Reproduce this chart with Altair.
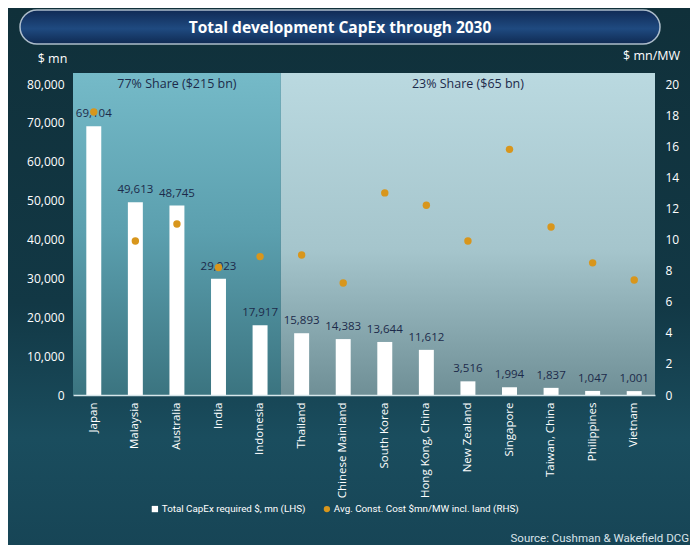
import altair as alt
import pandas as pd

countries = ["Japan", "Malaysia", "Australia", "India", "Indonesia", "Thailand",
             "Chinese Mainland", "South Korea", "Hong Kong, China", "New Zealand",
             "Singapore", "Taiwan, China", "Philippines", "Vietnam"]
capex = [69104, 49613, 48745, 29923, 17917, 15893, 14383, 13644, 11612, 3516,
         1994, 1837, 1047, 1001]
cost_per_mw = [18.2, 9.9, 11.0, 8.2, 8.9, 9.0, 7.2, 13.0, 12.2, 9.9, 15.8, 10.8, 8.5, 7.4]

share_labels = ["77% Share ($215 bn)", "23% Share ($65 bn)"]
share_counts = [5, 9]
share_centers = ["Australia", "New Zealand"]

series_names = ["Total CapEx required $, mn (LHS)",
                "Avg. Const. Cost $mn/MW incl. land (RHS)"]
left_ticks = [0, 10000, 20000, 30000, 40000, 50000, 60000, 70000, 80000]
right_ticks = [0, 2, 4, 6, 8, 10, 12, 14, 16, 18, 20]

title_text = "Total development CapEx through 2030"
source_text = "Source: Cushman & Wakefield DCG"

FONT = "Open Sans"
NAVY = "#1c2a4a"
GOLD = "#d8961c"
W, H = 582, 322
PAD = {"left": 65, "top": 65, "right": 35, "bottom": 150}

df = pd.DataFrame({"country": countries, "capex": capex, "cost": cost_per_mw})
df["capex_label"] = [f"{v:,}" for v in capex]

x_scale = alt.Scale(domain=countries, paddingInner=0.64, paddingOuter=0.32)
x_axis = alt.Axis(title=None, labelAngle=-90, labelColor="white",
                  labelFont=FONT, labelFontSize=11.5, labelPadding=7,
                  ticks=False, domainColor="#d6e6ea", domainWidth=1.5,
                  grid=False, zindex=1)


def xenc():
    return alt.X("country:N", scale=x_scale, axis=x_axis)


y_left_scale = alt.Scale(domain=[0, 82830], nice=False)
y_right_scale = alt.Scale(domain=[0, 20.71], nice=False)
y_left_axis = alt.Axis(values=left_ticks, labelExpr="format(datum.value, ',')",
                       title="$ mn", titleAngle=0,
                       titleX=-21, titleY=-8, titleAlign="center",
                       titleColor="white", titleFont=FONT, titleFontSize=12.5,
                       titleFontWeight="normal",
                       labelColor="white", labelFont=FONT, labelFontSize=12,
                       labelPadding=9, ticks=False, domain=False, grid=False,
                       zindex=1)

# panel backgrounds
bounds = [0]
for c in share_counts:
    bounds.append(bounds[-1] + c)
panels = pd.DataFrame({"start": bounds[:-1], "end": bounds[1:], "label": share_labels,
                       "country": share_centers, "top": [80000, 80000]})

grad_left = alt.LinearGradient(gradient="linear", x1=0, y1=0, x2=0, y2=1, stops=[
    alt.GradientStop(color="#75bac8", offset=0),
    alt.GradientStop(color="#5b9fae", offset=0.5),
    alt.GradientStop(color="#3b7480", offset=1)])
grad_right = alt.LinearGradient(gradient="linear", x1=0, y1=0, x2=0, y2=1, stops=[
    alt.GradientStop(color="#bad9e0", offset=0),
    alt.GradientStop(color="#a5c5cc", offset=0.55),
    alt.GradientStop(color="#6f8f96", offset=1)])

bg_x = alt.X("start:Q", scale=alt.Scale(domain=[0, bounds[-1]], nice=False), axis=None)
bg_left = alt.Chart(panels).transform_filter(alt.datum.start == 0).mark_rect(
    fill=grad_left).encode(x=bg_x, x2="end:Q", y=alt.value(0), y2=alt.value(H))
bg_right = alt.Chart(panels).transform_filter(alt.datum.start > 0).mark_rect(
    fill=grad_right).encode(x=bg_x, x2="end:Q", y=alt.value(0), y2=alt.value(H))
bg = alt.layer(bg_left, bg_right)

color_scale = alt.Scale(domain=series_names, range=["white", GOLD])
legend = alt.Legend(title=None, orient="none", legendX=77, legendY=431,
                    direction="horizontal", labelColor="white", labelFont="Roboto",
                    labelFontSize=9.8, labelLimit=400, symbolSize=40,
                    symbolStrokeWidth=0, columnPadding=16, labelOffset=2,
                    zindex=1)

bars = alt.Chart(df).transform_calculate(series=f"'{series_names[0]}'").mark_bar(
    ).encode(
    x=xenc(),
    y=alt.Y("capex:Q", scale=y_left_scale, axis=y_left_axis),
    color=alt.Color("series:N", scale=color_scale, legend=legend),
)

bar_labels = alt.Chart(df).mark_text(dy=-12, color=NAVY, font=FONT, fontSize=11.5,
                                     baseline="middle").encode(
    x=xenc(), y=alt.Y("capex:Q", scale=y_left_scale, axis=y_left_axis),
    text="capex_label:N")

panel_text = alt.Chart(panels).mark_text(color=NAVY, font=FONT, fontSize=12.5,
                                         baseline="middle").encode(
    x=xenc(), y=alt.Y("top:Q", scale=y_left_scale, axis=y_left_axis),
    text="label:N")

left_group = alt.layer(bars, bar_labels, panel_text)

dots = alt.Chart(df).transform_calculate(series=f"'{series_names[1]}'").mark_point(
    filled=True, size=55, opacity=1).encode(
    x=xenc(),
    y=alt.Y("cost:Q", scale=y_right_scale,
            axis=alt.Axis(orient="right", values=right_ticks, title="$ mn/MW",
                          titleAngle=0, titleX=-4, titleY=-11, titleAlign="center",
                          titleColor="white", titleFont=FONT, titleFontSize=12.5,
                          titleFontWeight="normal",
                          labelColor="white", labelFont=FONT, labelFontSize=12,
                          labelPadding=10, ticks=False, domain=False, grid=False,
                          zindex=1)),
    color=alt.Color("series:N", scale=color_scale, legend=legend),
    shape=alt.Shape("series:N", scale=alt.Scale(domain=series_names,
                                                range=["square", "circle"]),
                    legend=legend),
)

main = alt.layer(left_group, dots).resolve_scale(y="independent")

# decorative page background, title banner and source
one = pd.DataFrame({"t": [title_text], "s": [source_text]})
page_grad = alt.LinearGradient(gradient="linear", x1=0, y1=0, x2=0, y2=1, stops=[
    alt.GradientStop(color="#10303a", offset=0),
    alt.GradientStop(color="#123845", offset=0.55),
    alt.GradientStop(color="#1a4d5e", offset=0.8),
    alt.GradientStop(color="#174556", offset=1)])
page = alt.Chart(one).mark_rect(fill=page_grad).encode(
    x=alt.value(-PAD["left"]), x2=alt.value(W + PAD["right"]),
    y=alt.value(-PAD["top"]), y2=alt.value(H + PAD["bottom"]))

banner_grad = alt.LinearGradient(gradient="linear", x1=0, y1=0, x2=0, y2=1, stops=[
    alt.GradientStop(color="#102a55", offset=0),
    alt.GradientStop(color="#1f4a80", offset=0.55),
    alt.GradientStop(color="#0f2a52", offset=1)])
banner = alt.Chart(one).mark_rect(fill=banner_grad, stroke="#c9d6e2", strokeWidth=1.5,
                                  strokeOpacity=0.85, cornerRadius=17).encode(
    x=alt.value(-53), x2=alt.value(587), y=alt.value(-63), y2=alt.value(-29))
title = alt.Chart(one).mark_text(color="white", font=FONT, fontSize=15.5,
                                 fontWeight="bold", align="center",
                                 baseline="middle").encode(
    x=alt.value(267), y=alt.value(-45), text="t:N")
source = alt.Chart(one).mark_text(color="#d9e4ea", font="Roboto", fontSize=11.5,
                                  align="right", baseline="middle").encode(
    x=alt.value(616), y=alt.value(466), text="s:N")

chart = alt.layer(page, bg, main, banner, title, source).resolve_scale(
    x="independent").properties(
    width=W, height=H,
    autosize=alt.AutoSizeParams(type="none"),
    padding=PAD,
).configure(background="#123846").configure_view(stroke=None)

chart.save("out.html", embed_options={"renderer": "svg", "actions": False})
